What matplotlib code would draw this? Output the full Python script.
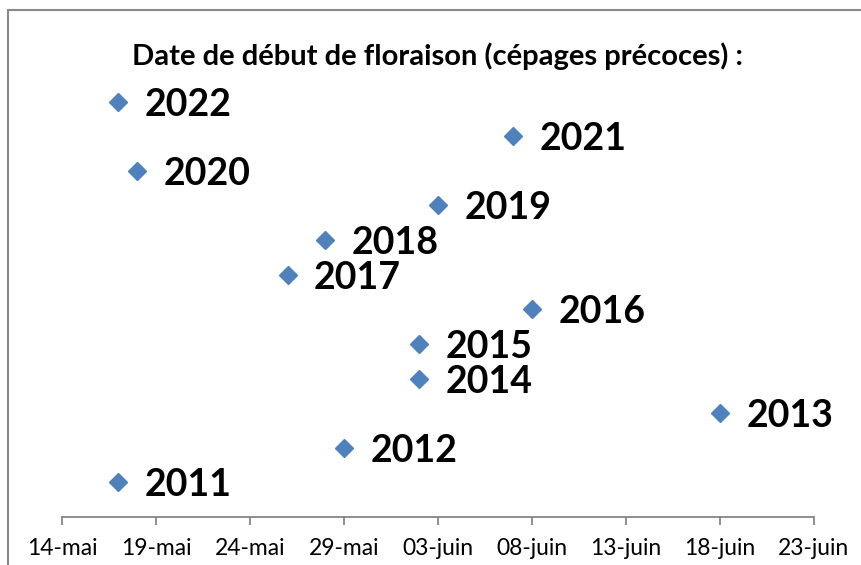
import pandas as pd
import matplotlib.pyplot as plt
import matplotlib.dates as mdates
from matplotlib.ticker import FuncFormatter
from matplotlib.patches import Rectangle

plt.rcParams['font.family'] = ['Lato', 'DejaVu Sans']

years = [2011, 2012, 2013, 2014, 2015, 2016, 2017, 2018, 2019, 2020, 2021, 2022]
bloom_days = ["05-17", "05-29", "06-18", "06-02", "06-02", "06-08",
              "05-26", "05-28", "06-03", "05-18", "06-07", "05-17"]
tick_days = ["05-14", "05-19", "05-24", "05-29", "06-03", "06-08",
             "06-13", "06-18", "06-23"]
months_fr = {5: "mai", 6: "juin"}

dates = pd.to_datetime(["2022-" + d for d in bloom_days])
ticks = pd.to_datetime(["2022-" + d for d in tick_days])

fig = plt.figure(figsize=(8.61, 5.65), dpi=100)
ax = fig.add_axes([0.072, 0.085, 0.8734, 0.7964])

color = '#4F81BD'
ax.plot(dates, years, linestyle='none', marker='D', markersize=9.5,
        color=color, markeredgecolor=color)

for d, y in zip(dates, years):
    ax.annotate(str(y), (d, y), xytext=(19, 0), textcoords='offset points',
                fontsize=27, fontweight='bold', va='center_baseline', ha='left')

ax.set_xlim(ticks[0], ticks[-1])
ax.set_ylim(2010, 2023)
ax.set_xticks(ticks)
ax.xaxis.set_major_formatter(FuncFormatter(
    lambda v, pos: "%02d-%s" % (mdates.num2date(v).day, months_fr[mdates.num2date(v).month])))
ax.tick_params(axis='x', length=6, width=1.3, color='#868686', labelsize=16.5, pad=9)
ax.set_yticks([])
for side in ['left', 'right', 'top']:
    ax.spines[side].set_visible(False)
ax.spines['bottom'].set_color('#868686')
ax.spines['bottom'].set_linewidth(1.3)

fig.text(437.5 / 861, 1 - 56 / 565, "Date de début de floraison (cépages précoces) :",
         ha='center', va='center', fontsize=21, fontweight='bold')

fig.patches.append(Rectangle((8 / 861, -0.1), 1.2, 1.1 - 10 / 565,
                             transform=fig.transFigure, fill=False,
                             edgecolor='#898989', linewidth=1.5))

fig.savefig("out.png", dpi=100)
